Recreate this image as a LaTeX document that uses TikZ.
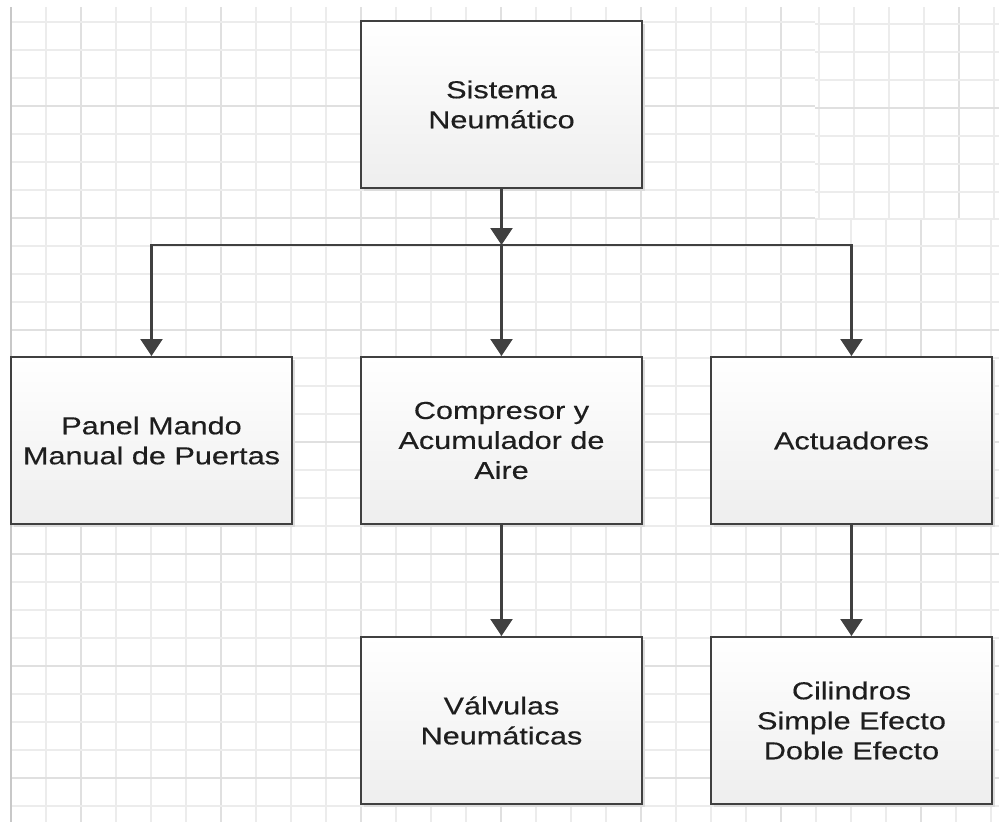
\documentclass[tikz,border=0pt]{standalone}
\usepackage{fontspec}
\newfontfamily\boxfont[FakeStretch=1.25,FakeBold=0.4]{Liberation Sans}
\usetikzlibrary{arrows.meta}

\definecolor{gridlight}{RGB}{236,236,236}
\definecolor{griddark}{RGB}{224,224,224}
\definecolor{gridedge}{RGB}{200,200,200}
\definecolor{boxline}{RGB}{64,64,64}
\definecolor{boxbottom}{RGB}{238,238,238}
\definecolor{boxtext}{RGB}{30,30,30}
\definecolor{shadowgray}{RGB}{220,220,220}

\tikzset{
  gridline/.style={draw=gridlight, line width=1.5pt},
  gridmajor/.style={draw=griddark, line width=1.5pt},
  blockbox/.style={
    rectangle, draw=boxline, line width=2pt,
    top color=white, bottom color=boxbottom,
    minimum width=281pt, minimum height=167pt, inner sep=0pt,
    align=center, text=boxtext,
    font=\boxfont\fontsize{24.5}{30}\selectfont,
    preaction={fill=shadowgray, transform canvas={xshift=2.5pt, yshift=-2.5pt}}
  },
  flow/.style={draw=boxline, line width=2.5pt,
    -{Triangle[width=22pt, length=17pt]}}
}

\begin{document}
\begin{tikzpicture}[x=1pt, y=-1pt]
  \useasboundingbox (0,0) rectangle (999,822);
  \fill[white] (0,0) rectangle (999,822);

  % squared paper background
  \foreach \k in {1,...,28} {
    \pgfmathtruncatemacro{\xx}{11+35*\k}
    \pgfmathtruncatemacro{\mj}{mod(\k,4)==2}
    \ifnum\mj=1
      \draw[gridmajor] (\xx,7) -- (\xx,822);
    \else
      \draw[gridline] (\xx,7) -- (\xx,822);
    \fi
  }
  \foreach \k in {0,...,28} {
    \pgfmathtruncatemacro{\yy}{22+28*\k}
    \pgfmathtruncatemacro{\mj}{mod(\k,4)==3}
    \ifnum\mj=1
      \draw[gridmajor] (11,\yy) -- (999,\yy);
    \else
      \draw[gridline] (11,\yy) -- (999,\yy);
    \fi
  }
  \draw[draw=gridedge, line width=2pt] (11,7) -- (11,822);

  % offset patch of paper in the upper right corner
  \fill[white] (815,7) rectangle (999,220);
  \foreach \k in {0,...,5} {
    \pgfmathtruncatemacro{\xx}{819+35*\k}
    \ifnum\k=4
      \draw[gridmajor] (\xx,7) -- (\xx,219);
    \else
      \draw[gridline] (\xx,7) -- (\xx,219);
    \fi
  }
  \foreach \k in {0,...,6} {
    \pgfmathtruncatemacro{\yy}{24+28*\k}
    \ifnum\k=3
      \draw[gridmajor] (815,\yy) -- (999,\yy);
    \else
      \draw[gridline] (815,\yy) -- (999,\yy);
    \fi
  }
  \draw[gridline] (815,219) -- (999,219);

  % blocks
  \node[blockbox] (sys)   at (501.5,104.5) {Sistema\\Neumático};
  \node[blockbox] (panel) at (151.5,440.5) {Panel Mando\\Manual de Puertas};
  \node[blockbox] (comp)  at (501.5,440.5) {Compresor y\\Acumulador de\\Aire};
  \node[blockbox] (act)   at (851.5,440.5) {Actuadores};
  \node[blockbox] (valv)  at (501.5,720.5) {Válvulas\\Neumáticas};
  \node[blockbox] (cil)   at (851.5,720.5) {Cilindros\\Simple Efecto\\Doble Efecto};

  % connectors
  \coordinate (split) at (501.5,245);
  \draw[flow] (sys.south) -- (split);
  \draw[flow] (split) -| (panel.north);
  \draw[flow] (split) -- (comp.north);
  \draw[flow] (split) -| (act.north);
  \draw[flow] (comp.south) -- (valv.north);
  \draw[flow] (act.south) -- (cil.north);
\end{tikzpicture}
\end{document}
